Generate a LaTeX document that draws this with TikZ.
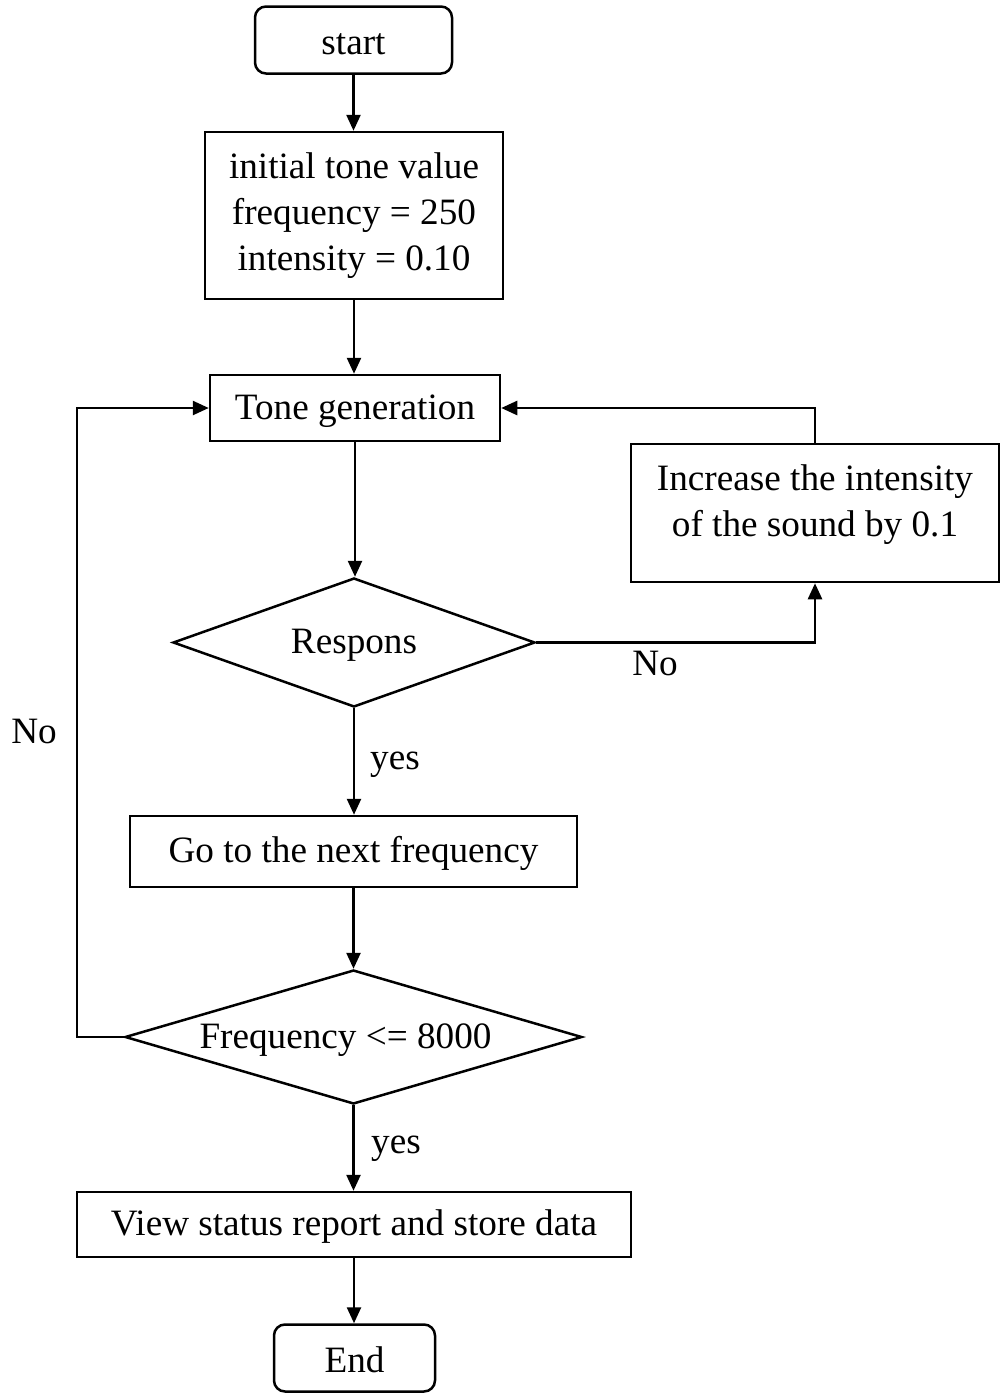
\documentclass[tikz,border=0pt]{standalone}
\usepackage{fontspec}
\setmainfont{Liberation Serif}
\usetikzlibrary{shapes.geometric,arrows.meta}
\begin{document}
\begin{tikzpicture}[x=1pt,y=-1pt,
  font=\fontsize{37.2}{46}\selectfont,
  every node/.style={inner sep=0pt},
  oneline/.style={text height=29.8pt,text depth=7.4pt},
  boxn/.style={draw,line width=2.5pt,rectangle,align=center},
  termn/.style={draw,line width=2.5pt,rectangle,rounded corners=11pt,text height=29.8pt,text depth=1.4pt},
  dian/.style={draw,line width=2.5pt,diamond,oneline},
  arr/.style={line width=2.5pt,-{Triangle[length=16pt,width=14pt]}},
  ln/.style={line width=2.5pt}]
\useasboundingbox (0,0) rectangle (1005,1393);
\node[termn,minimum width=197pt,minimum height=67pt] (start) at (353.5,40) {start};
\node[boxn,minimum width=298pt,minimum height=167pt] (init) at (354,215.5) {initial tone value\\frequency = 250\\intensity = 0.10};
\node[boxn,oneline,minimum width=290pt,minimum height=66pt] (tone) at (355,408) {Tone generation};
\node[boxn,minimum width=368pt,minimum height=138pt] (inc) at (815,513) {};
\node[align=center] (incT) at (815,505) {Increase the intensity\\of the sound by 0.1};
\node[dian,aspect=2.8,minimum width=362pt,minimum height=129pt] (resp) at (354,642.5) {Respons};
\node[boxn,oneline,minimum width=447pt,minimum height=71pt] (next) at (353.5,851.5) {Go to the next frequency};
\node[dian,aspect=3.41,minimum width=457pt,minimum height=134pt] (freq) at (353.5,1037) {Frequency <= 8000\kern16pt\relax};
\node[boxn,oneline,minimum width=554pt,minimum height=65pt] (view) at (354,1224.5) {View status report and store data};
\node[termn,minimum width=161pt,minimum height=67pt] (end) at (354.5,1358) {End};
\coordinate (lx) at (77,1037);
% connectors
\draw[arr] (start.south) -- (start.south |- init.north);
\draw[arr] (init.south) -- (init.south |- tone.north);
\draw[arr] (tone.south) -- (tone.south |- resp.north);
\draw[arr] (resp.south) -- (resp.south |- next.north);
\draw[arr] (next.south) -- (next.south |- freq.north);
\draw[arr] (freq.south) -- (freq.south |- view.north);
\draw[arr] (view.south) -- (view.south |- end.north);
\draw[arr] (resp.east) -| (inc.south);
\draw[arr] (inc.north) |- (tone.east);
\draw[arr] (freq.west) -- (lx) |- (tone.west);
% labels
\node[oneline] (no1) at (655,664) {No};
\node[oneline] (no2) at (34,732) {No};
\node[oneline] (yes1) at (395,758) {yes};
\node[oneline] (yes2) at (396,1142) {yes};
\end{tikzpicture}
\end{document}
